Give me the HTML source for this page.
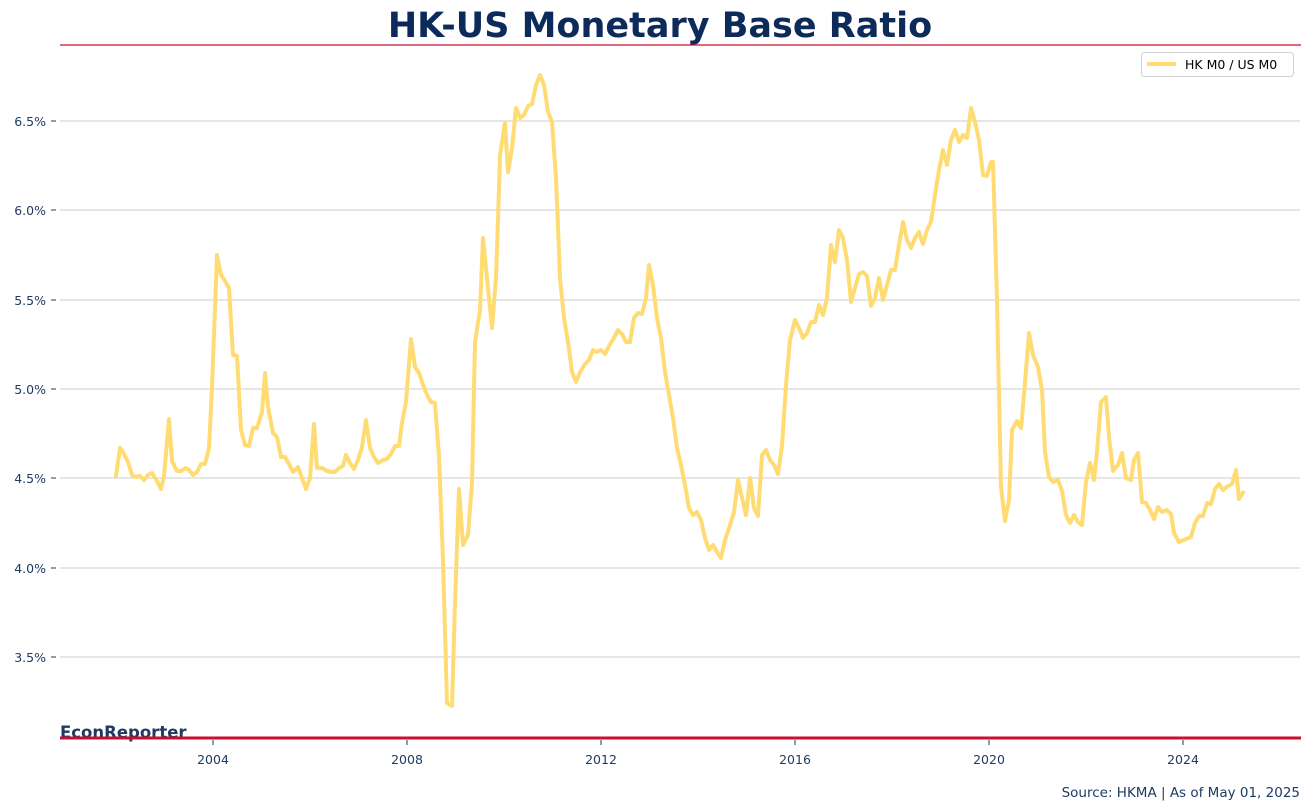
<!DOCTYPE html>
<html><head><meta charset="utf-8"><style>
body{margin:0;background:#fff;}
svg{display:block;font-family:"DejaVu Sans","Liberation Sans",sans-serif;}
</style></head><body>
<svg width="1309" height="810" viewBox="0 0 1309 810" xmlns="http://www.w3.org/2000/svg">
<rect width="1309" height="810" fill="#fff"/>
<text x="660" y="37" text-anchor="middle" font-size="35" font-weight="bold" fill="#0d2b5a">HK-US Monetary Base Ratio</text>
<line x1="60" y1="45" x2="1301" y2="45" stroke="#c8102e" stroke-width="1.2"/>
<g stroke="#cccccc" stroke-width="1">
<line x1="60" y1="121" x2="1300" y2="121"/>
<line x1="60" y1="210" x2="1300" y2="210"/>
<line x1="60" y1="300" x2="1300" y2="300"/>
<line x1="60" y1="389" x2="1300" y2="389"/>
<line x1="60" y1="478" x2="1300" y2="478"/>
<line x1="60" y1="568" x2="1300" y2="568"/>
<line x1="60" y1="657" x2="1300" y2="657"/>
</g>
<g stroke="#1f3b63" stroke-width="1">
<line x1="51" y1="121" x2="56" y2="121"/><line x1="51" y1="210" x2="56" y2="210"/><line x1="51" y1="300" x2="56" y2="300"/><line x1="51" y1="389" x2="56" y2="389"/><line x1="51" y1="478" x2="56" y2="478"/><line x1="51" y1="568" x2="56" y2="568"/><line x1="51" y1="657" x2="56" y2="657"/>
<line x1="213" y1="740" x2="213" y2="745"/><line x1="407" y1="740" x2="407" y2="745"/><line x1="601" y1="740" x2="601" y2="745"/><line x1="795" y1="740" x2="795" y2="745"/><line x1="989" y1="740" x2="989" y2="745"/><line x1="1183" y1="740" x2="1183" y2="745"/>
</g>
<g font-size="12.5" fill="#1f3b63" text-anchor="end">
<text x="46" y="126">6.5%</text><text x="46" y="215">6.0%</text><text x="46" y="305">5.5%</text><text x="46" y="394">5.0%</text><text x="46" y="483">4.5%</text><text x="46" y="573">4.0%</text><text x="46" y="662">3.5%</text>
</g>
<g font-size="12.5" fill="#1f3b63" text-anchor="middle">
<text x="213" y="764">2004</text><text x="407" y="764">2008</text><text x="601" y="764">2012</text><text x="795" y="764">2016</text><text x="989" y="764">2020</text><text x="1183" y="764">2024</text>
</g>
<polyline fill="none" stroke="#ffdc73" stroke-width="4" stroke-linejoin="round" points="
115.7,478 120,448 123,452 128,462 132,475 136,477 140,476 144,480 148,475 152,473 157,481 161,489 164,476 169,419 172,461 177,471 181,471 186,468 189,470 193,475 197,472 201,464 205,464 209,448 212,387 217,255 221,275 225,281 229,288 233,355 237,356 241,430 245,445 249,446 253,428 257,428 262,412 265,373 268,407 273,433 277,437 281,457 285,457 289,464 293,472 298,467 302,478 306,489 310,478 314,424 317,468 322,468 327,471 331,472 335,472 339,468 343,466 346,455 350,463 354,469 358,460 362,447 366,420 370,448 374,457 378,463 383,460 387,459 391,454 395,446 399,446 402,423 406,402 411,339 415,367 419,373 423,385 428,397 431,402 435,403 439,457 443,560 447,703 452,706 455,603 459,489 463,545 468,535 472,483 475,342 480,310 483,238 487,278 492,328 496,277 498,220
500,155 505,123 508,172 512,148 516,108 520,118 524,115 528,106 532,104 536,85 540,75 544,85 548,112 552,122 556,178 560,278 564,318 568,342 572,372 576,382 580,372 585,364 589,360 593,350 597,352 601,350 605,354 609,346 614,338 618,330 622,334 626,342 630,342 634,318 638,313 642,314 646,298 649,265 653,285 657,318 661,338 665,372 669,395 673,418 677,448 681,465 685,485 689,508 693,515 697,512 701,520 705,538 709,550 713,545 717,552 721,558 725,540 730,525 734,512 738,480 742,498 746,515 750,478 754,508 758,516 762,455 766,450 770,460 774,465 778,474 782,446 786,385 790,340 795,320 799,328 803,338 807,333 811,322 815,322 819,305 823,315 827,298 831,245 835,262 839,230 843,238 847,260 851,302 855,288 859,274 863,272 867,276 871,306 875,298 879,278 883,300 887,285 891,270 895,270 899,245 903,222 907,240 911,248 915,238 919,232 923,244 927,230 931,222 935,195 939,170 943,150 947,165 951,140 955,130 959,142 963,135 967,138 971,108 975,122 979,140 983,175 987,176 991,162 993,162
997,300 1001,487 1005,521 1009,500 1012,430 1017,421 1021,428 1024,395 1029,333 1033,355 1038,367 1042,390 1045,452 1049,477 1053,482 1058,480 1062,491 1066,515 1070,523 1074,515 1078,522 1082,525 1086,482 1090,463 1094,480 1097,452 1101,402 1106,397 1109,437 1113,471 1118,465 1122,453 1126,478 1131,480 1134,460 1138,453 1142,502 1146,503 1150,510 1154,519 1158,507 1162,512 1167,510 1171,514 1174,533 1179,542 1191,537 1195,523 1199,516 1203,516 1207,503 1211,504 1215,489 1219,484 1223,490 1228,486 1232,484 1236,470 1239,499 1244,491"/>
<rect x="1141.5" y="52.5" width="152" height="24" rx="3" fill="#fff" stroke="#d0d0d0"/>
<line x1="1147" y1="64" x2="1176" y2="64" stroke="#ffdc73" stroke-width="4"/>
<text x="1185" y="69" font-size="12.5" fill="#000">HK M0 / US M0</text>
<text x="60" y="738" font-size="16.5" font-weight="bold" fill="#1f3b63">EconReporter</text>
<line x1="60" y1="738" x2="1301" y2="738" stroke="#c8102e" stroke-width="3"/>
<text x="1300" y="797" text-anchor="end" font-size="13.5" fill="#1f3b63">Source: HKMA | As of May 01, 2025</text>
</svg>
</body></html>
